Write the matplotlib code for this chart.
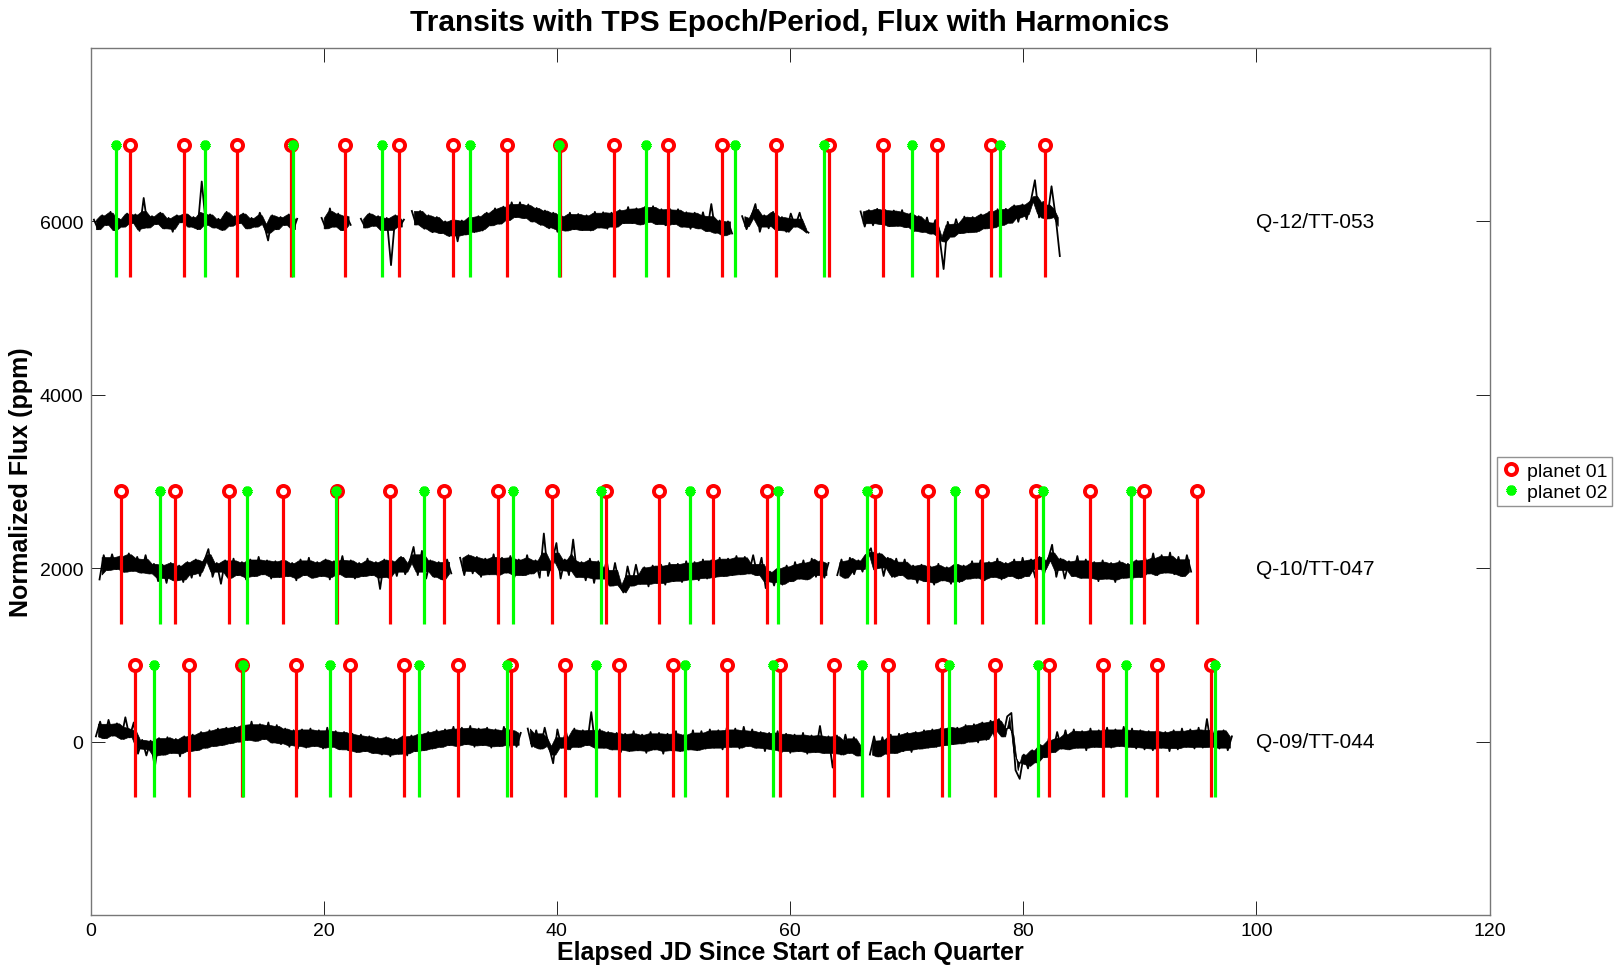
"""
Transit markers (TPS epoch/period) over per-quarter normalized flux.
Outputs: out.png
"""

import matplotlib
matplotlib.use("Agg")
import matplotlib.pyplot as plt
from matplotlib.lines import Line2D
import numpy as np
import pandas as pd

matplotlib.rcParams["font.family"] = ["Liberation Sans", "DejaVu Sans"]

# quarter labels and vertical offsets (ppm)
QUARTER_LABELS = ["Q-09/TT-044", "Q-10/TT-047", "Q-12/TT-053"]
QUARTER_OFFSETS = [0, 2000, 6000]

# transit times, planet 01 (red) and planet 02 (green), days
q09_planet01 = [3.80, 8.41, 13.03, 17.64, 22.26, 26.87, 31.48, 36.10, 40.71, 45.33, 49.94,
                54.55, 59.17, 63.78, 68.40, 73.01, 77.62, 82.24, 86.85, 91.47, 96.08]
q09_planet02 = [5.47, 13.07, 20.57, 28.17, 35.76, 43.36, 50.95, 58.54, 66.14, 73.64, 81.24,
                88.83, 96.42]
q10_planet01 = [2.65, 7.26, 11.88, 16.49, 21.11, 25.72, 30.33, 34.95, 39.56, 44.18, 48.79,
                53.40, 58.02, 62.63, 67.25, 71.86, 76.47, 81.09, 85.70, 90.32, 94.93]
q10_planet02 = [5.92, 13.42, 21.02, 28.61, 36.20, 43.80, 51.39, 58.98, 66.58, 74.17, 81.68,
                89.27]
q12_planet01 = [3.36, 7.98, 12.59, 17.21, 21.83, 26.45, 31.06, 35.68, 40.30, 44.91, 49.53,
                54.15, 58.76, 63.38, 68.00, 72.62, 77.23, 81.85]
q12_planet02 = [2.21, 9.80, 17.40, 24.99, 32.58, 40.18, 47.68, 55.28, 62.87, 70.46, 77.97]

# stem extent relative to the quarter offset
STEM_LOW, STEM_HIGH = -645, 885

# flux segments: (start, end) in days, values in ppm relative to offset
q09_spans = [(0.46, 36.9), (37.5, 66.2), (66.85, 97.9)]
q09_seg1 = [60, 230, 40, 250, 70, 210, 30, 280, 50, 220, -140, 20, -160, 10, -295, 40, -150, 50,
            -130, 30, -170, 60, -110, 80, -100, 110, -70, 130, -50, 150, -40, 160, -20, 170, 0,
            210, 20, 230, 10, 200, 30, 220, -10, 190, -30, 150, -60, 130, -80, 140, -70, 150,
            -50, 130, -80, 160, -60, 120, -90, 110, -100, 90, -120, 80, -110, 60, -130, 40,
            -150, 50, -170, 30, -140, 60, -160, 70, -110, 90, -100, 110, -80, 130, -60, 140,
            -40, 170, -50, 160, -30, 180, -60, 150, -40, 160, -70, 140, -50, 170, -80, 130,
            -60, 100]
q09_seg2 = [150, -60, 130, -80, 160, -50, -250, 140, -70, 120, -90, 150, -60, 130, -40, 340,
            -80, 140, -70, 110, -90, 100, -120, 90, -110, 120, -100, 80, -130, 110, -90, 100,
            -140, 90, -100, 120, -110, 80, -90, 130, -100, 120, -80, 140, -70, 130, -90, 160,
            -60, 150, -80, 170, -50, 140, -70, 110, -110, 100, -100, 120, -120, 90, -130, 80,
            -110, 100, -140, 70, -120, 180, -130, 60, -300, 70, -150, 80, -130, 50, -160, -40]
q09_seg3 = [-150, 60, -170, 50, -140, 80, -130, 90, -110, 100, -120, 110, -80, 130, -70, 140,
            -60, 150, -40, 170, -30, 160, -20, 190, 0, 200, -10, 220, 20, 240, 50, 260, 60, 290,
            330, -330, -430, -150, -310, -100, -240, -40, -180, 40, -120, 110, -80, 130, -90,
            140, -70, 120, -100, 150, -60, 130, -80, 160, -70, 140, -50, 170, -60, 150, -80,
            130, -90, 120, -100, 140, -70, 110, -110, 130, -90, 150, -60, 140, -80, 160, -70,
            260, -60, 150, -80, 130, -100, 60]

q10_spans = [(0.77, 30.94), (31.7, 63.3), (64.05, 94.4)]
q10_seg1 = [-130, 150, -20, 160, -10, 140, -40, 170, -30, 130, -50, 150, -60, 50, -150, 40,
            -170, 60, -140, 30, -160, 70, -110, 100, -90, 80, 220, -100, 60, -180, 90, -120,
            110, -80, 70, -130, 100, -90, 130, -70, 90, -120, 80, -100, 110, -90, 60, -140, 100,
            -80, 120, -110, 70, -90, 100, -130, 80, -70, 140, -100, 90, -120, 60, -90, 110, -80,
            70, -240, 100, -110, 80, -90, 130, -70, 60, 245, -80, 200, -120, 90, -100, 70, -130,
            100, -60]
q10_seg2 = [120, -80, 150, -60, 130, -100, 110, -70, 160, -90, 120, -50, 140, -100, 100, -80,
            150, -60, 90, -110, 400, -90, 80, 290, -120, 100, -80, 330, -100, 70, -140, 110,
            -170, 80, -120, 90, -200, 60, -190, -280, 20, -200, 40, -180, 10, -210, 30, -170,
            40, -190, 60, -150, 50, -160, 80, -130, 70, -140, 100, -120, 90, -100, 120, -90, 110,
            -80, 140, -70, 130, -60, 150, -80, 120, -230, -40, -200, 0, -190, 30, -150, 70,
            -120, 90, -130, 110, -100, 80, -110, 60]
q10_seg3 = [-80, 100, -110, 120, -70, 90, -40, 160, 230, -50, 170, -90, 120, -100, 110, -80,
            100, -120, 30, -170, 40, -150, 20, -190, 50, -140, 10, -180, 60, -160, 30, -120, 80,
            -110, 90, -140, 70, -100, 110, -130, 60, -90, 100, -120, 120, -90, 100, -110, 130,
            -80, 90, 270, -100, 110, -120, 80, -90, 140, -110, 100, -130, 70, -150, 90, -120, 60,
            -160, 80, -110, 50, -140, 90, -100, 140, -60, 170, -80, 150, -50, 180, -70, 130, -90,
            150, -40]

q12_spans = [(0.29, 17.72), (19.82, 22.31), (23.19, 26.88), (27.56, 55.03), (55.89, 61.58),
             (66.05, 83.14)]
q12_seg1 = [20, -90, 70, -40, 110, -100, 30, -60, 90, -20, 80, -110, 270, -70, 60, -30, 100, -80,
            40, -120, 70, -10, 90, -60, 50, -90, 460, -40, 80, -70, 30, -100, 110, -50, 60, -20,
            90, -80, 40, -60, 100, -30, -220, 70, -90, 50, -40, 80, -110, 30]
q12_seg2 = [40, -80, 150, -60, 90, -100, 60, -40]
q12_seg3 = [30, -70, 90, -50, 60, -100, 40, -505, 70, -60, 20]
q12_seg4 = [120, -35, 120, -85, 70, -125, 50, -135, 0, -170, 20, -230, 10, -150, 50, -125, 60,
            -105, 100, -45, 150, -25, 170, 15, 220, 50, 220, 40, 195, 0, 155, -40, 125, -80, 100,
            -120, 60, -105, 100, -90, 85, -100, 70, -105, 110, -70, 105, -85, 100, -70, 130, -20,
            165, -20, 150, -35, 165, -5, 175, -30, 140, -45, 145, -30, 140, -60, 105, -85, 100,
            -80, 105, -110, 200, -130, 10, -160, 0, -140]
q12_seg5 = [60, -90, 40, 200, -120, 70, -80, 110, -100, 50, -120, 90, -60, 100, -90, -130]
q12_seg6 = [115, -60, 130, -45, 145, -30, 130, -55, 125, -50, 130, -65, 90, -110, 60, -120, 45,
            -140, 15, -175, -550, -5, -175, 25, -135, 55, -125, 50, -120, 80, -80, 110, -70, 140,
            -40, 145, -15, 185, -5, 195, 25, 230, 475, 45, 225, 35, 405, 50, -400]

QUARTERS = [
    (q09_spans, [q09_seg1, q09_seg2, q09_seg3], q09_planet01, q09_planet02),
    (q10_spans, [q10_seg1, q10_seg2, q10_seg3], q10_planet01, q10_planet02),
    (q12_spans, [q12_seg1, q12_seg2, q12_seg3, q12_seg4, q12_seg5, q12_seg6],
     q12_planet01, q12_planet02),
]

RED = "#FF0000"
GREEN = "#00FF00"
BAND_CLIP = 100  # ppm around the local median; the zigzag line sticks out past this


def draw_flux(ax, t, v):
    # dense noise band: solid core clipped around the local median, with the
    # sample-to-sample line on top giving the ragged edges and thin spikes
    v = np.asarray(v, dtype=float)
    med = pd.Series(v).rolling(9, center=True, min_periods=1).median().to_numpy()
    med = 0.5 * (med[:-1] + med[1:])
    tm = 0.5 * (t[:-1] + t[1:])
    hi = np.minimum(np.maximum(v[:-1], v[1:]), med + BAND_CLIP)
    lo = np.maximum(np.minimum(v[:-1], v[1:]), med - BAND_CLIP)
    ax.fill_between(tm, lo, hi, color="black", lw=0.5, zorder=2)
    ax.plot(t, v, color="black", lw=1.3, zorder=2)


def draw(output_path="out.png"):
    fig = plt.figure(figsize=(16.14, 9.70), dpi=100)
    ax = fig.add_axes([0.0561, 0.0557, 0.8668, 0.8938])

    for (spans, segs, p1, p2), off, label in zip(QUARTERS, QUARTER_OFFSETS, QUARTER_LABELS):
        for (t0, t1), vals in zip(spans, segs):
            t = np.linspace(t0, t1, len(vals))
            draw_flux(ax, t, off + np.asarray(vals))

        # transit stems, green drawn over red
        ax.vlines(p1, off + STEM_LOW, off + STEM_HIGH, color=RED, lw=2.3, zorder=3)
        ax.plot(p1, [off + STEM_HIGH] * len(p1), "o", ms=8, mew=2.8, mec=RED, mfc="white",
                zorder=4)
        ax.vlines(p2, off + STEM_LOW, off + STEM_HIGH, color=GREEN, lw=2.3, zorder=5)
        ax.plot(p2, [off + STEM_HIGH] * len(p2), marker=(6, 2, 0), ls="none", ms=7, mew=3,
                mec=GREEN, mfc=GREEN, zorder=6)

        ax.text(100, off, label, ha="left", va="center", fontsize=15)

    ax.set_xlim(0, 120)
    ax.set_ylim(-2000, 8000)
    ax.set_xticks(np.arange(0, 121, 20))
    ax.set_yticks([0, 2000, 4000, 6000])
    ax.tick_params(direction="in", length=10, width=0.6, top=True, right=True,
                   labelsize=14, pad=5)
    for spine in ax.spines.values():
        spine.set_edgecolor("#777777")
        spine.set_linewidth(1.0)

    ax.set_title("Transits with TPS Epoch/Period, Flux with Harmonics",
                 fontsize=21.5, fontweight="bold", pad=13)
    ax.set_xlabel("Elapsed JD Since Start of Each Quarter", fontsize=18, fontweight="bold",
                  labelpad=1)
    ax.set_ylabel("Normalized Flux (ppm)", fontsize=18, fontweight="bold", labelpad=5)

    handles = [
        Line2D([], [], ls="none", marker="o", ms=8, mew=2.8, mec=RED, mfc="white",
               label="planet 01"),
        Line2D([], [], ls="none", marker=(6, 2, 0), ms=7, mew=3, mec=GREEN, mfc=GREEN,
               label="planet 02"),
    ]
    leg = ax.legend(handles=handles, loc="center left", bbox_to_anchor=(1.005, 0.5),
                    fontsize=14, frameon=True, fancybox=False, edgecolor="#777777",
                    borderpad=0.25, labelspacing=0.2, handlelength=1.0, handletextpad=0.3,
                    borderaxespad=0)
    leg.get_frame().set_linewidth(1.0)

    fig.savefig(output_path, dpi=100, facecolor="white")
    plt.close(fig)


if __name__ == "__main__":
    draw()
